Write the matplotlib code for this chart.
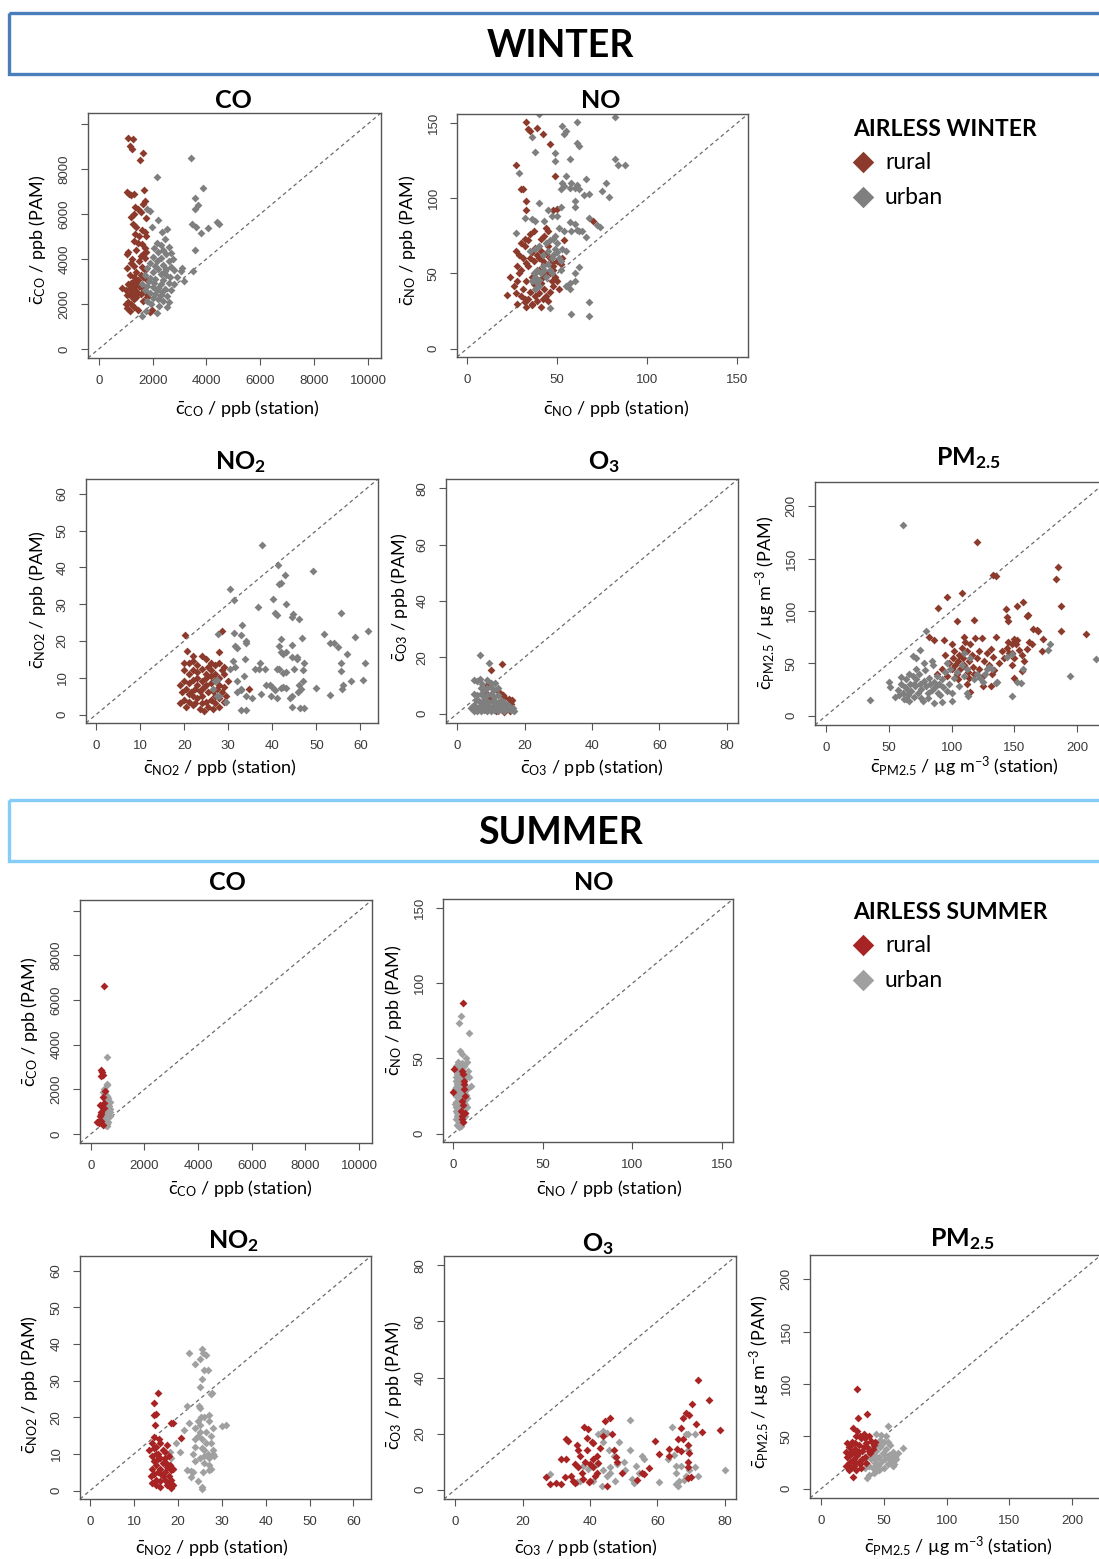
import matplotlib.pyplot as plt
import numpy as np
from matplotlib.patches import Rectangle

plt.rcParams["font.family"] = "Lato"
plt.rcParams["mathtext.fontset"] = "custom"
plt.rcParams["mathtext.rm"] = "Lato"
plt.rcParams["mathtext.it"] = "Lato:italic"
plt.rcParams["mathtext.bf"] = "Lato:bold"

# ---- data (x = station, y = PAM) ----
w_co_rural = [(1100, 9350), (1280, 9330), (1150, 9020), (1250, 8900), (1660, 8720), (1520, 8380),
              (1050, 6980), (1120, 6900), (1200, 6850), (1300, 6880), (1680, 7050), (1730, 6550),
              (1650, 6450), (1350, 6300), (1450, 6200), (1300, 6000), (1550, 6100), (1750, 5800),
              (1200, 5850), (1280, 5550), (1400, 5400), (1600, 5300), (1700, 5200), (1350, 5100),
              (1500, 5000), (1750, 5000), (1300, 4800), (1450, 4700), (1600, 4650), (1700, 4500),
              (1750, 4300), (1650, 4200), (1100, 4300), (1050, 4200), (1400, 4400), (1550, 4150),
              (1700, 4050), (1250, 4000), (1200, 3800), (1300, 3700), (1050, 3600), (1500, 3900),
              (1600, 3650), (1700, 3500), (1400, 3400), (1150, 3300), (1300, 3200), (1550, 3300),
              (1650, 3200), (1750, 3100), (850, 2700), (1000, 2600), (1100, 2900), (1200, 2950),
              (1300, 3000), (1400, 2850), (1250, 2750), (1150, 2650), (1350, 2600), (1450, 2500),
              (1050, 2400), (1200, 2350), (1300, 2200), (1400, 2300), (1550, 2450), (1600, 2700),
              (1700, 2550), (1650, 2150), (1100, 2100), (1000, 2000), (1200, 2000), (1800, 2300),
              (1050, 1800), (1150, 1700), (1300, 1850), (1450, 1750), (1980, 1750), (1900, 1650),
              (1350, 2450), (1250, 2550), (1500, 2800), (1450, 3050), (1150, 2450), (1350, 2900)]
w_co_urban = [(3420, 8470), (2150, 7630), (3880, 7140), (3570, 6700), (3700, 6400), (3580, 6200),
              (1800, 6200), (1900, 6150), (4380, 5650), (4480, 5560), (4070, 5370), (3470, 5560),
              (3600, 5400), (3800, 5150), (1970, 5400), (3580, 4410), (3490, 3450), (3160, 3000),
              (3080, 3590), (3050, 3450), (2200, 5750), (2550, 5350), (2350, 5200), (2450, 4900),
              (2150, 4700), (2300, 4600), (2600, 4550), (2700, 4250), (2050, 4500), (2400, 4400),
              (2500, 4200), (2200, 4300), (2750, 4000), (2000, 4100), (2300, 4050), (2600, 3900),
              (1900, 3800), (2100, 3700), (2400, 3750), (2700, 3650), (2800, 3500), (2200, 3550),
              (1800, 3600), (2000, 3400), (2300, 3350), (2500, 3300), (2650, 3200), (2900, 3200),
              (1700, 3300), (1900, 3150), (2100, 3100), (2400, 3050), (2600, 2950), (2800, 2900),
              (1600, 2900), (1800, 2800), (2000, 2750), (2200, 2700), (2450, 2650), (2700, 2600),
              (1700, 2600), (1900, 2500), (2100, 2450), (2300, 2400), (2550, 2350), (2000, 2250),
              (2200, 2200), (2400, 2150), (2600, 2100), (1800, 2150), (1950, 2000), (2250, 1900),
              (2550, 1850), (2150, 1600), (1600, 1450), (1750, 1700), (2350, 2550), (2150, 3900),
              (2500, 3550), (1850, 3000), (2300, 2900), (2150, 2600), (2450, 3450), (2050, 2950)]

w_no_rural = [(33, 151), (34, 146), (35, 145), (39, 147), (42, 143), (46, 136), (27, 122), (30, 106),
              (31, 106), (49, 115), (33, 98), (33, 92), (70, 85), (50, 93), (48, 92), (22, 36),
              (24, 48), (26, 42), (27, 37), (28, 45), (28, 30), (29, 50), (30, 35), (31, 40), (32, 31),
              (33, 28), (33, 45), (34, 33), (35, 38), (36, 30), (37, 43), (38, 35), (39, 32), (40, 37),
              (41, 44), (42, 33), (43, 40), (44, 35), (45, 32), (46, 38), (47, 45), (48, 42), (36, 48),
              (38, 50), (40, 52), (42, 48), (44, 50), (46, 50), (30, 52), (28, 55), (27, 65), (29, 62),
              (31, 60), (32, 68), (30, 70), (33, 57), (34, 55), (35, 60), (36, 64), (37, 58), (38, 67),
              (39, 62), (40, 60), (41, 65), (42, 58), (43, 56), (44, 63), (45, 68), (46, 60), (47, 57),
              (48, 55), (50, 58), (52, 56), (53, 60), (54, 72), (44, 80), (45, 78), (43, 75), (41, 73),
              (35, 76), (34, 72), (32, 73), (37, 78), (48, 52), (50, 45), (51, 40), (49, 48), (41, 28),
              (36, 29), (32, 33)]
w_no_urban = [(40, 156), (82, 154), (53, 148), (54, 143), (55, 145), (61, 151), (36, 141), (38, 131),
              (49, 130), (57, 126), (61, 137), (62, 135), (49, 125), (29, 117), (82, 126), (84, 122),
              (88, 122), (66, 113), (75, 105), (77, 110), (79, 101), (55, 115), (52, 106), (53, 110),
              (54, 108), (57, 107), (58, 110), (60, 107), (61, 109), (62, 106), (65, 102), (68, 103),
              (60, 98), (40, 97), (45, 92), (52, 94), (60, 94), (32, 87), (36, 86), (38, 85), (43, 85),
              (68, 87), (72, 82), (74, 81), (57, 84), (60, 83), (61, 79), (62, 78), (64, 78), (58, 78),
              (54, 78), (66, 74), (27, 77), (55, 65), (62, 54), (52, 52), (57, 44), (55, 42), (57, 40),
              (60, 50), (60, 45), (68, 31), (68, 22), (58, 23), (46, 27), (47, 88), (50, 88), (51, 80),
              (49, 75), (36, 45), (38, 48), (39, 52), (40, 46), (41, 50), (42, 55), (43, 52), (44, 48),
              (45, 56), (46, 52), (47, 60), (48, 62), (49, 66), (50, 64), (51, 60), (45, 65), (44, 70),
              (46, 72), (40, 68), (38, 66), (35, 65), (42, 62), (47, 50), (52, 58), (53, 66), (40, 42),
              (38, 40), (39, 44), (37, 50), (50, 70), (48, 73)]

w_no2_rural = [(20.1, 21.7), (28.5, 22.6), (20.6, 17.2), (27.9, 17.1), (34.8, 7), (21, 14), (22, 14.5),
               (23, 13.5), (24, 16), (25, 15), (26, 14), (27, 13.5), (28, 14), (29, 13), (20, 12), (21, 11),
               (22, 12), (23, 11.5), (24, 12.5), (25, 11), (26, 12), (27, 11), (28, 10), (29, 11), (19, 8),
               (20, 9), (21, 8.5), (22, 9.5), (23, 8), (24, 9), (25, 10), (26, 8.5), (27, 9.5), (28, 8),
               (29, 7.5), (30, 9), (19.5, 6), (20.5, 7), (21.5, 6), (22.5, 7), (23.5, 6.5), (24.5, 7.5),
               (25.5, 6), (26.5, 6.5), (27.5, 7), (28.5, 6), (29.5, 5), (19, 3), (20, 4), (21, 3.5), (22, 5),
               (23, 4.5), (24, 5), (25, 3.5), (26, 4), (27, 3), (28, 4.5), (29, 3.5), (20.5, 2), (22, 2.5),
               (23.5, 1.5), (24.5, 1), (25.5, 2), (26.5, 1.5), (28, 2), (23, 10), (24, 7), (25, 8), (21, 5.5),
               (22.5, 3), (26, 10.5), (27, 5), (24, 3), (28.5, 12), (20, 14), (22, 16), (25.5, 13)]
w_no2_urban = [(37.6, 46.2), (30.4, 34.2), (31.2, 31.2), (41.3, 40.5), (41.5, 35.5), (42, 35.8),
               (42.9, 37.8), (49.2, 38.9), (40.1, 31.5), (40.5, 27.5), (41, 27), (36.7, 29.2), (43.1, 30.1),
               (44.5, 26.5), (44.8, 27.4), (46, 26), (55.5, 27.7), (33.2, 24.4), (27.7, 21.9), (31.3, 22.1),
               (33, 21.5), (34, 19.5), (34, 20), (31.5, 18.5), (32, 18), (41.5, 18.5), (42, 17), (43, 17),
               (41.9, 20.6), (42.5, 16.5), (44.5, 19), (44.5, 15.5), (45.5, 15.5), (45.5, 15), (46.7, 20.7),
               (51.7, 22), (53, 19.5), (54, 19.5), (55, 18.3), (57, 16.5), (55.5, 14), (55.5, 11.7),
               (58.7, 21.2), (61.7, 22.8), (61, 14), (60.5, 9.5), (57.8, 9.2), (56, 8), (55.9, 7), (53, 5.2),
               (50, 7.3), (47.3, 14), (47, 12), (47, 9), (46, 8), (46.5, 7), (45.8, 6), (45, 12.5), (44, 4.5),
               (44.5, 5), (44.5, 2), (46.3, 1.8), (47.3, 1.7), (42.5, 11.2), (43, 11.5), (42.5, 7.5),
               (43, 7.2), (42, 7.3), (41, 12.5), (41.5, 12.3), (41, 4.5), (39.5, 8), (40, 7.5), (40.5, 6.7),
               (39.8, 5), (38.3, 12.5), (36, 12.3), (37, 12.3), (37.3, 14), (38.5, 8), (37.5, 5.5),
               (35.5, 4.5), (34, 5), (33, 6.7), (33, 7), (32, 6), (33, 1.3), (34, 1.3), (33.5, 10.5),
               (33.8, 15), (31.5, 13), (32, 9), (30.5, 12.5), (31, 14.5), (29.5, 3.5), (27.5, 9.5),
               (27, 9), (28, 5), (26.5, 7), (27.5, 5)]

w_o3_rural = [(10, 15.6), (13.3, 17.5), (8.9, 10.3), (13, 7), (14, 6), (15.3, 5.3), (15.9, 4.5), (16, 3.5),
              (15.7, 1), (14, 0.5), (12, 2), (13, 1.5), (12.5, 4), (8.6, 1.2), (11, 2.5), (10.5, 5),
              (9.5, 5.5), (12, 8), (8.9, 7.1), (16.2, 5), (14.5, 3), (11.5, 0.8), (13.5, 6.5)]
w_o3_urban = [(6.7, 21), (9.6, 18), (11.1, 11), (5, 12), (6, 11.5), (6.8, 12.2), (17, 1), (5, 7), (6, 6.5),
              (7, 7), (8, 6), (9, 6.5), (10, 7), (11, 6), (12, 6.5), (13, 5), (14, 4), (15, 3), (16, 2), (4, 2),
              (5, 3), (6, 2), (7, 3), (8, 2.5), (9, 3), (10, 2), (11, 3), (12, 2), (13, 1.5), (14, 2),
              (15, 1.5), (5, 1), (6, 0.8), (7, 1), (8, 1.2), (9, 0.8), (10, 1), (11, 1.2), (12, 1), (14, 1),
              (16, 1.2), (5.5, 5), (6.5, 4.5), (7.5, 4), (8.5, 4.5), (9.5, 4), (10.5, 4.5), (11.5, 4),
              (12.5, 3.5), (13.5, 3), (7, 9), (8, 8.5), (9, 9), (10, 9.5), (11, 8.5), (12, 9), (7.5, 10.5),
              (9, 12), (10, 11), (4.5, 2.5), (15, 2.5), (16.5, 2)]

w_pm_rural = [(120, 166), (133, 134), (135, 133), (185, 142), (183, 130), (187, 105), (187, 81), (207, 78),
              (96, 113), (108, 117), (89, 103), (118, 91), (104, 90), (143, 102), (144, 94), (145, 90),
              (152, 105), (157, 109), (160, 95), (161, 96), (165, 83), (168, 82), (169, 81), (173, 73),
              (172, 62), (82, 75), (86, 72), (94, 72), (115, 23), (131, 28), (150, 36), (156, 43), (148, 60),
              (148, 68), (150, 73), (95, 58), (98, 50), (100, 45), (101, 55), (102, 62), (103, 48), (104, 40),
              (105, 52), (106, 58), (107, 45), (108, 65), (109, 55), (110, 48), (111, 70), (112, 62),
              (113, 42), (114, 52), (115, 68), (116, 58), (117, 47), (118, 40), (119, 74), (120, 55),
              (122, 45), (124, 74), (125, 38), (126, 52), (128, 60), (130, 48), (131, 64), (132, 40),
              (133, 56), (134, 44), (135, 75), (138, 50), (140, 62), (142, 55), (144, 65), (145, 70),
              (146, 60), (148, 48), (150, 55), (151, 68), (152, 72), (154, 63), (156, 58), (158, 52),
              (160, 64), (162, 70), (164, 68), (110, 75), (112, 30), (114, 36), (122, 62), (105, 35),
              (92, 45), (96, 38), (100, 68), (125, 28), (88, 40)]
w_pm_urban = [(61.6, 182), (34.8, 14.6), (215, 54), (194, 38), (148, 19), (177, 63), (178, 68), (155, 31),
              (152, 32), (157, 45), (144, 56), (148, 59), (135, 31), (128, 45), (130, 47), (110, 60), (80, 81),
              (75, 63), (69, 57), (72, 55), (50, 32), (51, 27), (55, 18), (86, 12), (100, 14), (113, 19),
              (112, 22), (57, 25), (58, 20), (60, 30), (61, 22), (62, 16), (63, 27), (64, 35), (65, 20),
              (66, 14), (67, 30), (68, 24), (69, 38), (70, 18), (71, 28), (72, 35), (73, 22), (74, 40),
              (75, 30), (76, 26), (77, 14), (78, 33), (79, 44), (80, 28), (81, 22), (82, 36), (83, 30),
              (84, 25), (85, 48), (86, 32), (87, 27), (88, 38), (89, 22), (90, 30), (91, 20), (92, 35),
              (93, 27), (95, 42), (96, 24), (98, 30), (99, 45), (100, 22), (102, 36), (104, 42), (106, 28),
              (108, 48), (110, 38), (112, 45), (115, 55), (118, 35), (120, 40), (123, 36), (125, 32),
              (127, 40), (132, 45), (136, 32), (60, 37), (66, 40), (72, 45), (78, 50), (84, 52), (76, 17),
              (81, 17), (92, 13), (70, 30), (65, 25), (64, 16), (96, 50)]

s_co_rural = [(495, 6610), (400, 2850), (430, 2800), (400, 2600), (450, 2650), (445, 1670), (550, 1950),
              (350, 1300), (250, 550), (300, 500), (400, 600), (450, 400), (400, 1000), (350, 800),
              (500, 1150), (380, 900), (320, 600), (480, 1400)]
s_co_urban = [(595, 3450), (600, 2250), (620, 2200), (500, 2000), (520, 1950), (450, 1900), (550, 1800),
              (600, 1700), (480, 1600), (560, 1550), (620, 1500), (700, 1450), (520, 1400), (600, 1350),
              (650, 1300), (500, 1250), (560, 1200), (620, 1150), (700, 1100), (450, 1100), (520, 1050),
              (580, 1000), (650, 950), (480, 950), (550, 900), (620, 850), (700, 800), (500, 800), (560, 750),
              (620, 700), (450, 700), (520, 650), (580, 600), (650, 550), (500, 550), (560, 500), (620, 450),
              (480, 450), (540, 400), (600, 350), (420, 500), (680, 1250), (720, 1000), (460, 1300),
              (640, 1600), (580, 1250), (540, 1100)]

s_no_rural = [(5.9, 86.7), (0.6, 42.7), (0, 28), (5, 42), (5.5, 40), (6, 35), (6, 33), (5, 22), (5.5, 19),
              (7, 14), (5.5, 8), (5, 10), (4.5, 15), (6.5, 25), (6, 30), (5, 12)]
s_no_urban = [(4.6, 78.4), (3.3, 73.3), (8.9, 67), (4, 55), (5, 53), (7.5, 50), (8, 48), (8.5, 42), (9, 38),
              (10, 32), (2, 45), (3, 48), (4, 46), (5, 47), (6, 45), (2.5, 40), (3.5, 42), (4.5, 38),
              (6.5, 40), (7, 37), (1.5, 35), (2.5, 36), (3.5, 34), (5, 35), (7, 32), (8, 30), (1, 30), (2, 31),
              (3, 29), (4, 31), (5, 28), (6, 27), (7.5, 26), (1.5, 25), (2.5, 26), (3.5, 24), (4.5, 23),
              (6, 22), (7, 20), (1, 20), (2, 21), (3, 19), (4, 18), (5, 17), (6, 16), (8, 18), (1.5, 15),
              (2.5, 14), (3.5, 13), (4.5, 12), (6, 11), (2, 10), (3, 9), (4, 8), (5, 7), (2.5, 6), (3.5, 4.5),
              (4.5, 5), (7, 12), (8, 24), (2, 38), (3, 44), (4, 40), (5, 44), (6, 38), (2.5, 33), (4, 27),
              (5.5, 25), (3, 22), (1.5, 18), (3, 16), (5, 14), (4, 11), (2.5, 12), (6.5, 14), (3.5, 7)]

s_no2_rural = [(15.5, 26.5), (14.5, 24), (15, 21), (14.5, 20.5), (14.8, 18), (18.5, 18.5), (19, 18.3),
               (20.8, 14.3), (17.5, 12.3), (18, 9.5), (13.5, 11), (14, 13), (14.5, 14.5), (15, 12), (15.5, 10),
               (16, 13), (16.5, 11), (17, 9), (14, 9.5), (14.5, 8), (15, 7), (15.5, 8.5), (16, 6), (16.5, 7.5),
               (17, 5), (17.5, 6.5), (18, 4), (18.5, 5.5), (19, 6), (14, 6), (14.5, 4.5), (15, 3), (15.5, 5),
               (16, 2.5), (16.5, 4), (17, 3), (17.5, 1.5), (18, 2), (18.5, 0.8), (14, 2), (15, 1.5), (16, 1),
               (13.8, 4), (15, 10), (16, 9), (17, 10.5), (18.5, 3), (19, 1.5), (14.5, 11.5), (15.8, 14),
               (16.2, 4.5), (17.3, 7.5), (18.2, 7)]
s_no2_urban = [(22.6, 37.5), (25.6, 38.5), (25.8, 37.5), (25, 36), (24, 34.5), (26.5, 37), (26, 33),
               (26.8, 33), (25, 28.3), (25.5, 30.5), (27.5, 26.3), (27.8, 26.5), (22, 23.1), (24.7, 23),
               (25, 22.5), (30.1, 17.5), (31, 18), (21.5, 16.5), (22.5, 18.5), (19.5, 13), (18.3, 10.5),
               (18.5, 9), (20.5, 10.5), (22, 5.7), (23, 5.3), (23.5, 5), (23, 3.7), (24.5, 2.5), (25.5, 1),
               (25.5, 0.5), (25.8, 5), (27, 5.5), (27.5, 6), (23.5, 10), (24, 12), (24.5, 15), (25, 18),
               (25.5, 14), (26, 11), (26.5, 16), (27, 19), (27.5, 13), (28, 10), (24, 8), (25, 9), (26, 7.5),
               (27, 9), (28, 11), (26, 20), (27, 20.5), (28, 17), (24.5, 19), (25, 16), (25.5, 11.5),
               (26.5, 13), (27.5, 15), (26, 9.5), (24, 17), (28.2, 9.5), (27.2, 7), (23.8, 14), (26.8, 10),
               (25.3, 20)]

s_o3_rural = [(72, 39.2), (75.4, 31.9), (70.3, 30.4), (68.5, 27.5), (69.5, 26.5), (67.5, 25.5), (71.5, 23.6),
              (73.2, 20.6), (78.7, 21.3), (66.9, 22), (66, 18), (65.8, 14.5), (63.3, 14.5), (63.5, 12.2),
              (60.5, 12.7), (59.3, 17.5), (67, 13.7), (67.5, 18.2), (69, 16), (69.5, 13), (69, 10), (69, 8),
              (70, 4.5), (69, 4.2), (57.5, 7.7), (55.5, 6), (54, 3.5), (56, 5.7), (27, 4.5), (28, 2),
              (30, 2.3), (31.3, 2.2), (31.5, 10.8), (33, 11), (32.5, 4.5), (33, 18), (33.5, 17.5), (34.3, 5),
              (35, 3), (35.5, 2.5), (35.5, 9), (36, 16), (36.5, 14), (37, 12), (37.5, 6), (38.3, 22.3),
              (39.5, 21.8), (39, 18.5), (39, 14), (38.5, 10), (40, 9), (41, 8), (40.5, 17), (41, 16.5),
              (41.5, 5), (42, 6), (42, 12), (43, 15), (44, 19), (44.5, 24.5), (45, 1.5), (46, 25.6),
              (46.5, 19.8), (47.7, 11.5), (47, 14), (48, 10), (49.5, 6), (40, 3), (38, 4), (39.8, 2.8),
              (41, 11), (42.5, 9.5), (36.5, 8)]
s_o3_urban = [(28.1, 5.6), (36, 2.8), (37, 3), (38, 8.5), (39.5, 7.5), (41, 3), (42, 9), (42.5, 20), (44, 21),
              (45, 20.3), (44, 17), (45.5, 14), (46, 8), (47, 12), (48, 9), (48.5, 17), (47.5, 3), (46, 6),
              (45, 5), (43.5, 1.5), (44, 7), (50, 10), (50.5, 7), (52, 25), (52, 14), (52.5, 4), (53, 2.5),
              (53.5, 8.5), (55.5, 12), (56, 11), (54.5, 6), (60.5, 2.8), (63, 11), (64.3, 22.3), (65, 12.5),
              (65.5, 8.5), (65.5, 6), (65.5, 2), (66, 1.5), (66.5, 3), (67, 8.5), (68.5, 19.8), (69, 20),
              (69, 14), (69.5, 7), (68, 3.5), (68.5, 5), (71, 8), (72, 4.8), (71, 20), (80, 7)]

s_pm_rural = [(28.4, 95.2), (37, 71), (29.4, 67.3), (25.7, 58), (25.7, 11), (20, 22), (21, 30), (22, 40),
              (23, 26), (24, 35), (25, 45), (26, 28), (27, 38), (28, 50), (29, 32), (30, 42), (31, 24), (32, 48),
              (33, 36), (34, 52), (35, 30), (36, 44), (37, 40), (38, 50), (39, 34), (40, 46), (41, 38), (42, 42),
              (22, 18), (24, 20), (26, 22), (28, 18), (30, 26), (20, 35), (21, 44), (23, 32), (27, 44), (29, 55),
              (31, 50), (33, 28), (35, 48), (30, 35), (25, 34), (22, 25), (34, 40), (36, 25), (38, 36), (43, 45),
              (32, 20), (27, 25), (24, 42)]
s_pm_urban = [(53.6, 60.3), (65, 38.7), (44, 52), (48, 51), (37, 10), (38, 13), (42, 15), (44, 17), (35, 20),
              (36, 25), (38, 22), (40, 28), (41, 20), (42, 32), (43, 25), (44, 36), (45, 22), (46, 30), (47, 40),
              (48, 26), (49, 34), (50, 45), (51, 28), (52, 38), (53, 24), (54, 32), (55, 42), (56, 27), (57, 35),
              (58, 24), (59, 30), (60, 28), (40, 38), (45, 44), (50, 20), (52, 50), (48, 42), (55, 30), (46, 18),
              (39, 33), (44, 28), (50, 33), (53, 45), (57, 22), (61, 34), (47, 47), (42, 40), (36, 30)]

co_ticks = [0, 2000, 4000, 6000, 8000, 10000]
no_ticks = [0, 50, 100, 150]
no2_ticks = [0, 10, 20, 30, 40, 50, 60]
o3_ticks = [0, 20, 40, 60, 80]
pm_ticks = [0, 50, 100, 150, 200]

W, H = 1099, 1559
WINTER_RURAL, WINTER_URBAN = "#8B3A2C", "#7F7F7F"
SUMMER_RURAL, SUMMER_URBAN = "#A82424", "#A0A0A0"

fig = plt.figure(figsize=(W / 100, H / 100), dpi=100)


def px_axes(left, top, right, bottom):
    return fig.add_axes([left / W, 1 - bottom / H, (right - left) / W, (bottom - top) / H])


def panel(box, lim, ticks, rural, urban, colors, rural_on_top, hide_last_y=False):
    ax = px_axes(*box)
    ax.plot(lim, lim, ls=(0, (3, 2.5)), color="#6a6a6a", lw=0.9, zorder=1)
    layers = [(urban, colors[1]), (rural, colors[0])]
    if not rural_on_top:
        layers = layers[::-1]
    for pts, col in layers:
        xy = np.array(pts, dtype=float)
        ax.scatter(xy[:, 0], xy[:, 1], marker="D", s=16, color=col, linewidths=0, zorder=2)
    ax.set_xlim(lim)
    ax.set_ylim(lim)
    ax.set_xticks(ticks)
    ax.set_yticks(ticks)
    ax.set_xticklabels([str(t) for t in ticks])
    ylabels = [str(t) for t in ticks]
    if hide_last_y:
        ylabels[-1] = ""
    ax.set_yticklabels(ylabels)
    ax.tick_params(direction="out", length=5, width=0.8, pad=7.5, colors="#555555",
                   labelcolor="#3a3a3a", labelsize=9.5)
    ax.tick_params(axis="y", labelrotation=90)
    for lab in ax.get_xticklabels() + ax.get_yticklabels():
        lab.set_fontfamily("Liberation Sans")
    plt.setp(ax.get_yticklabels(), va="center")
    for sp in ax.spines.values():
        sp.set_color("#555555")
        sp.set_linewidth(1.0)
    return ax


wcol = (WINTER_RURAL, WINTER_URBAN)
scol = (SUMMER_RURAL, SUMMER_URBAN)
co_lim = (-400, 10480)
no_lim = (-5.5, 156)
no2_lim = (-2.3, 64)
o3_lim = (-3.3, 83.3)
pm_lim = (-8.8, 223)

panel((88, 113, 381, 358), co_lim, co_ticks, w_co_rural, w_co_urban, wcol, False, True)
panel((457, 114, 748, 357), no_lim, no_ticks, w_no_rural, w_no_urban, wcol, False)
panel((86, 479, 378, 723), no2_lim, no2_ticks, w_no2_rural, w_no2_urban, wcol, False)
panel((446, 479, 738, 723), o3_lim, o3_ticks, w_o3_rural, w_o3_urban, wcol, False)
panel((815, 482, 1106, 725), pm_lim, pm_ticks, w_pm_rural, w_pm_urban, wcol, False)
panel((80, 900, 372, 1143), co_lim, co_ticks, s_co_rural, s_co_urban, scol, True, True)
panel((443, 899, 733, 1142), no_lim, no_ticks, s_no_rural, s_no_urban, scol, True)
panel((80, 1256, 371, 1499), no2_lim, no2_ticks, s_no2_rural, s_no2_urban, scol, True)
panel((444, 1256, 736, 1499), o3_lim, o3_ticks, s_o3_rural, s_o3_urban, scol, True)
panel((810, 1255, 1101, 1498), pm_lim, pm_ticks, s_pm_rural, s_pm_urban, scol, True)

# overlay in pixel coordinates for banners, titles, labels and legends
ov = fig.add_axes([0, 0, 1, 1], zorder=5)
ov.set_xlim(0, W)
ov.set_ylim(H, 0)
ov.axis("off")

ov.add_patch(Rectangle((9, 13), 1120, 61, fill=False, edgecolor="#4A7EBB", lw=2.4))
ov.add_patch(Rectangle((9, 800), 1120, 61, fill=False, edgecolor="#85CDF6", lw=2.4))
ov.text(560, 57, "WINTER", ha="center", va="baseline", fontsize=27, fontweight="bold")
ov.text(560, 844, "SUMMER", ha="center", va="baseline", fontsize=27, fontweight="bold")

titles = [
    ("CO", 233, 108), ("NO", 601, 108), (r"NO$_\mathbf{2}$", 240, 469), (r"O$_\mathbf{3}$", 604, 469),
    (r"PM$_\mathbf{2.5}$", 968, 465),
    ("CO", 227, 890), ("NO", 594, 890), (r"NO$_\mathbf{2}$", 233, 1248), (r"O$_\mathbf{3}$", 598, 1251),
    (r"PM$_\mathbf{2.5}$", 962, 1246),
]
for txt, x, y in titles:
    ov.text(x, y, txt, ha="center", va="baseline", fontsize=18, fontweight="bold")

cbar = r"$\bar{\mathrm{c}}_{\mathrm{%s}}$"
xlabels = [
    (cbar % "CO" + " / ppb (station)", 247, 414), (cbar % "NO" + " / ppb (station)", 616, 414),
    (cbar % "NO2" + " / ppb (station)", 220, 773), (cbar % "O3" + " / ppb (station)", 592, 773),
    (cbar % "PM2.5" + r" / µg m$^{\mathrm{-3}}$ (station)", 964, 773),
    (cbar % "CO" + " / ppb (station)", 240, 1194), (cbar % "NO" + " / ppb (station)", 609, 1194),
    (cbar % "NO2" + " / ppb (station)", 212, 1553), (cbar % "O3" + " / ppb (station)", 586, 1553),
    (cbar % "PM2.5" + r" / µg m$^{\mathrm{-3}}$ (station)", 958, 1553),
]
for txt, x, y in xlabels:
    ov.text(x, y, txt, ha="center", va="baseline", fontsize=13)

ylabels = [
    (cbar % "CO" + " / ppb (PAM)", 38, 240), (cbar % "NO" + " / ppb (PAM)", 408, 240),
    (cbar % "NO2" + " / ppb (PAM)", 38, 600), (cbar % "O3" + " / ppb (PAM)", 400, 597),
    (cbar % "PM2.5" + r" / µg m$^{\mathrm{-3}}$ (PAM)", 766, 603),
    (cbar % "CO" + " / ppb (PAM)", 30, 1022), (cbar % "NO" + " / ppb (PAM)", 393, 1010),
    (cbar % "NO2" + " / ppb (PAM)", 30, 1385), (cbar % "O3" + " / ppb (PAM)", 393, 1385),
    (cbar % "PM2.5" + r" / µg m$^{\mathrm{-3}}$ (PAM)", 760, 1382),
]
for txt, x, y in ylabels:
    ov.text(x, y, txt, ha="center", va="center", rotation=90, fontsize=13)

# legends
for title, ty, col_r, col_u in [("AIRLESS WINTER", 129, WINTER_RURAL, WINTER_URBAN),
                                ("AIRLESS SUMMER", 912, SUMMER_RURAL, SUMMER_URBAN)]:
    ov.text(853, ty, title, ha="left", va="center", fontsize=16.5, fontweight="bold")
    ov.scatter([863], [ty + 33], marker="D", s=120, color=col_r, linewidths=0)
    ov.scatter([863], [ty + 68], marker="D", s=120, color=col_u, linewidths=0)
    ov.text(885, ty + 33, "rural", ha="left", va="center", fontsize=16.5)
    ov.text(885, ty + 68, "urban", ha="left", va="center", fontsize=16.5)

fig.savefig("out.png", dpi=100)
